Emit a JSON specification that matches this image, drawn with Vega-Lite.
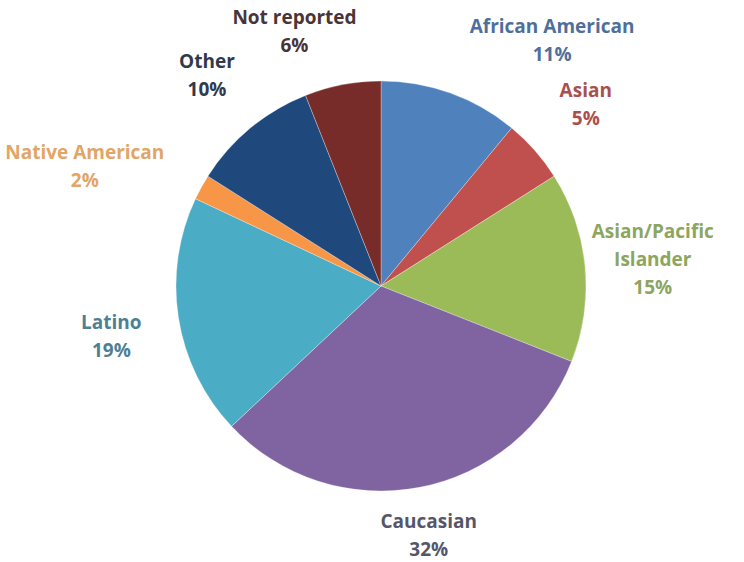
{
  "$schema": "https://vega.github.io/schema/vega-lite/v6.json",
  "width": 726,
  "height": 552,
  "autosize": {"type": "none"},
  "padding": {"left": 18, "top": 10, "right": 0, "bottom": 0},
  "background": "white",
  "data": {
    "values": [
      {"order": 1, "group": "African American", "pct": 11, "label": "African American\n11%"},
      {"order": 2, "group": "Asian", "pct": 5, "label": "Asian\n5%"},
      {"order": 3, "group": "Asian/Pacific Islander", "pct": 15, "label": "Asian/Pacific\nIslander\n15%"},
      {"order": 4, "group": "Caucasian", "pct": 32, "label": "Caucasian\n32%"},
      {"order": 5, "group": "Latino", "pct": 19, "label": "Latino\n19%"},
      {"order": 6, "group": "Native American", "pct": 2, "label": "Native American\n2%"},
      {"order": 7, "group": "Other", "pct": 10, "label": "Other\n10%"},
      {"order": 8, "group": "Not reported", "pct": 6, "label": "Not reported\n6%"}
    ]
  },
  "encoding": {
    "theta": {"field": "pct", "type": "quantitative", "stack": true},
    "order": {"field": "order", "type": "quantitative"}
  },
  "layer": [
    {
      "mark": {"type": "arc", "outerRadius": 205, "stroke": "#ffffff", "strokeWidth": 0.3},
      "encoding": {
        "color": {
          "field": "group",
          "type": "nominal",
          "legend": null,
          "scale": {
            "domain": ["African American", "Asian", "Asian/Pacific Islander", "Caucasian", "Latino", "Native American", "Other", "Not reported"],
            "range": ["#4F81BD", "#C0504D", "#9BBB59", "#8064A2", "#4BACC6", "#F79646", "#1F497D", "#772C2A"]
          }
        }
      }
    },
    {
      "mark": {
        "type": "text",
        "radius": {"expr": "datum.group === 'Caucasian' ? 255 : datum.group === 'African American' ? 260 : datum.group === 'Not reported' ? 259 : 273"},
        "dx": {"expr": "datum.group === 'African American' ? 83 : datum.group === 'Native American' ? -57 : datum.group === 'Not reported' ? -38 : 0"},
        "dy": {"expr": "-(length(split(datum.label, '\\n')) - 1) * 14 + (datum.group === 'Native American' ? 13 : datum.group === 'Latino' ? 8 : 0)"},
        "font": "Open Sans", "fontWeight": "bold", "fontSize": 19, "lineBreak": "\n", "lineHeight": 28, "align": "center", "baseline": "middle"
      },
      "encoding": {
        "text": {"field": "label"},
        "color": {
          "field": "group",
          "type": "nominal",
          "legend": null,
          "scale": {
            "domain": ["African American", "Asian", "Asian/Pacific Islander", "Caucasian", "Latino", "Native American", "Other", "Not reported"],
            "range": ["#4F6F9B", "#A9504F", "#8DA55E", "#55566A", "#4F7F95", "#E2A565", "#2F3A4C", "#4A3436"]
          }
        }
      }
    }
  ],
  "resolve": {"scale": {"color": "independent"}}
}
